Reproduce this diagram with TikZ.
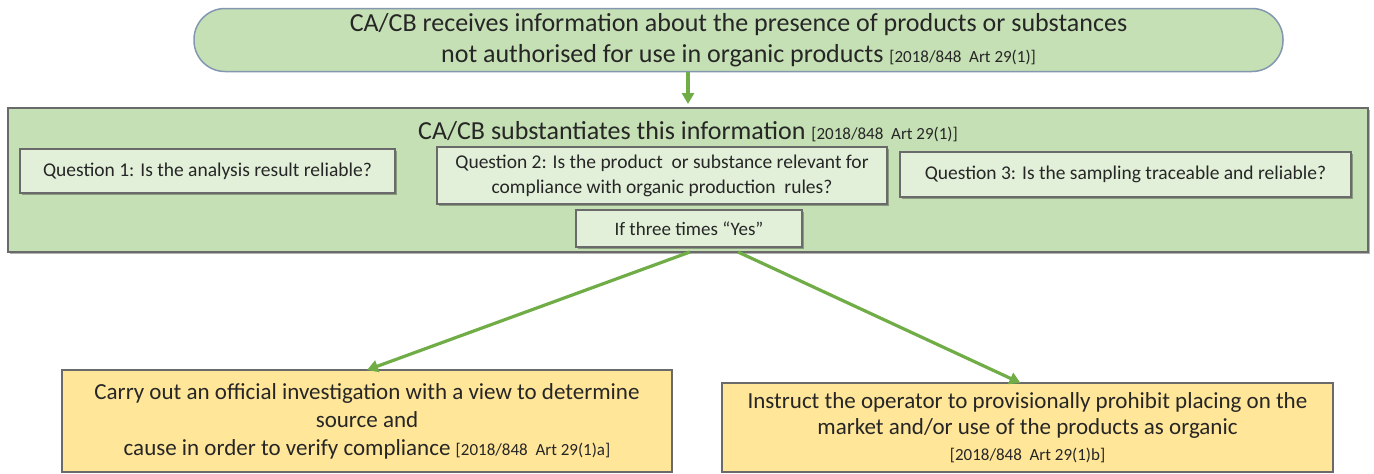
\documentclass[tikz,border=0pt]{standalone}
\usepackage{fontspec}
\setmainfont{Carlito}
\usetikzlibrary{arrows.meta,shadows}
\definecolor{gfill}{HTML}{C5E0B4}
\definecolor{qfill}{HTML}{E2F0D9}
\definecolor{yfill}{HTML}{FFE699}
\definecolor{agreen}{HTML}{70AD47}
\definecolor{tborder}{HTML}{8497B0}
\definecolor{bborder}{HTML}{6A6A6A}
\definecolor{txt}{HTML}{262626}
\newcommand{\refsz}[1]{{\fontsize{17}{17}\selectfont #1}}
\begin{document}
\begin{tikzpicture}[x=1pt,y=-1pt,
  every node/.style={inner sep=0pt, outer sep=0pt, text=txt, align=center},
  shad/.style={drop shadow={shadow xshift=1.5pt,shadow yshift=-1.5pt,fill=black,opacity=0.3}},
  topbox/.style={draw=tborder, fill=gfill, line width=1.5pt, rounded corners=31pt,
    font=\fontsize{26}{31}\selectfont},
  bigbox/.style={draw=bborder, fill=gfill, line width=1.5pt, shad},
  qbox/.style={draw=bborder, fill=qfill, line width=1.5pt, shad,
    font=\fontsize{19.5}{25}\selectfont},
  ybox/.style={draw=bborder, fill=yfill, line width=1.5pt,
    font=\fontsize{23}{28}\selectfont},
  arr/.style={draw=agreen, line width=3.2pt, -{Triangle[length=11pt,width=12pt]}}]
\useasboundingbox (0,0) rectangle (1374,474);

\node[topbox, minimum width=1089pt, minimum height=63pt] (top) at (738.5,40)
  {CA/CB receives information about the presence of products or substances\\
   not authorised for use in organic products \refsz{[2018/848\ \ Art 29(1)]}};

\node[bigbox, minimum width=1360pt, minimum height=144pt] (big) at (688,180) {};
\node[font=\fontsize{26}{28}\selectfont] (title) at (688,132)
  {CA/CB substantiates this information \refsz{[2018/848\ \ Art 29(1)]}};

\node[qbox, minimum width=375pt, minimum height=44pt] (q1) at (207.5,171)
  {Question 1: Is the analysis result reliable?};
\node[qbox, minimum width=450pt, minimum height=57pt] (q2) at (662,175.5)
  {Question 2: Is the product\ \ or substance relevant for\\
   compliance with organic production\ \ rules?};
\node[qbox, minimum width=451pt, minimum height=45pt] (q3) at (1125.5,174.5)
  {Question 3: Is the sampling traceable and reliable?};
\node[qbox, minimum width=226pt, minimum height=37pt, font=\fontsize{19}{22}\selectfont] (yes) at (689,228.5)
  {If three times ``Yes''};

\node[ybox, minimum width=610pt, minimum height=102pt] (yl) at (367,421)
  {Carry out an official investigation with a view to determine\\
   source and\\
   cause in order to verify compliance \refsz{[2018/848\ \ Art 29(1)a]}};
\node[ybox, minimum width=611pt, minimum height=89pt, font=\fontsize{23}{26}\selectfont] (yr) at (1027.5,427.5)
  {Instruct the operator to provisionally prohibit placing on the\\
   market and/or use of the products as organic\\
   \refsz{[2018/848\ \ Art 29(1)b]}};

\draw[arr, shorten >=4pt] (top.south -| big.north) -- (big.north);
\draw[arr] ([xshift=2pt]big.south) -- (yl.north);
\draw[arr] ([xshift=50pt]big.south) -- ([xshift=-7pt]yr.north);
\end{tikzpicture}
\end{document}
